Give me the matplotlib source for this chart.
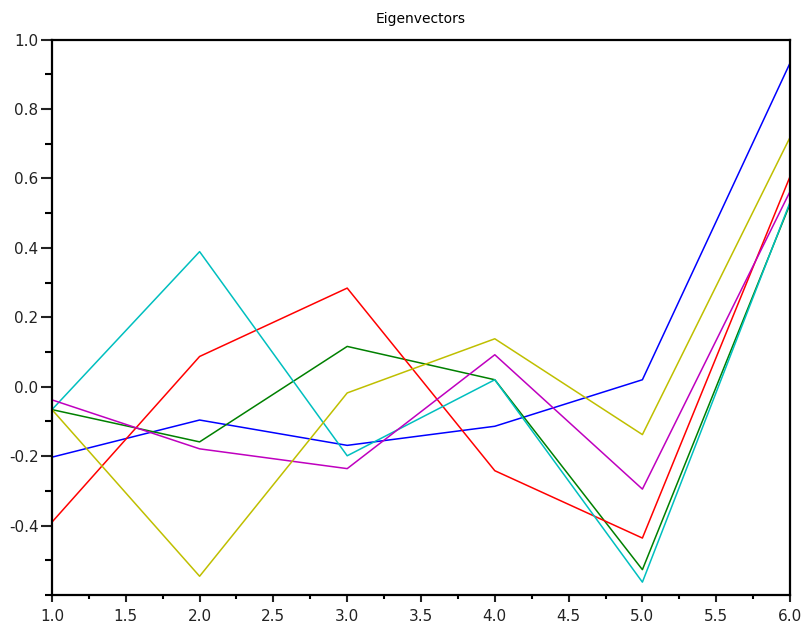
import numpy as np
import matplotlib
matplotlib.use('Agg')
import matplotlib.pyplot as plt
from matplotlib.ticker import MultipleLocator

# component index along x, one series per eigenvector
x = [1, 2, 3, 4, 5, 6]
v_blue = [-0.203, -0.096, -0.169, -0.114, 0.020, 0.932]
v_green = [-0.066, -0.159, 0.116, 0.020, -0.527, 0.526]
v_red = [-0.390, 0.087, 0.284, -0.242, -0.436, 0.605]
v_cyan = [-0.066, 0.389, -0.199, 0.020, -0.563, 0.531]
v_magenta = [-0.038, -0.179, -0.236, 0.092, -0.295, 0.562]
v_yellow = [-0.066, -0.546, -0.018, 0.138, -0.138, 0.718]

series = [v_blue, v_green, v_red, v_cyan, v_magenta, v_yellow]
colors = ['#0000ff', '#008000', '#ff0000', '#00bfbf', '#bf00bf', '#bfbf00']

fig = plt.figure(figsize=(8.06, 6.30), dpi=100)
ax = fig.add_axes([52 / 806, 35 / 630, 738 / 806, 555.5 / 630])

for vals, c in zip(series, colors):
    ax.plot(x, vals, color=c, linewidth=1.1)

ax.set_xlim(1, 6)
ax.set_ylim(-0.6, 1.0)
ax.set_xticks(np.arange(1.0, 6.01, 0.5))
ax.set_xticklabels(['%.1f' % t for t in np.arange(1.0, 6.01, 0.5)])
ax.set_yticks(np.arange(-0.4, 1.01, 0.2))
ax.set_yticklabels(['%.1f' % t for t in np.arange(-0.4, 1.01, 0.2)])
ax.xaxis.set_minor_locator(MultipleLocator(0.25))
ax.yaxis.set_minor_locator(MultipleLocator(0.1))

ax.tick_params(axis='y', which='major', direction='out', length=7.7, width=1.5,
               labelsize=11, pad=2, colors='#222222')
ax.tick_params(axis='y', which='minor', direction='out', length=4.8, width=1.5)
ax.tick_params(axis='x', which='major', direction='out', length=4.8, width=1.5,
               labelsize=11, pad=5, colors='#222222')
ax.tick_params(axis='x', which='minor', direction='out', length=2.9, width=1.5)

for s in ax.spines.values():
    s.set_linewidth(1.6)

ax.set_title('Eigenvectors', fontsize=10, pad=12)

fig.savefig('out.png', dpi=100)
